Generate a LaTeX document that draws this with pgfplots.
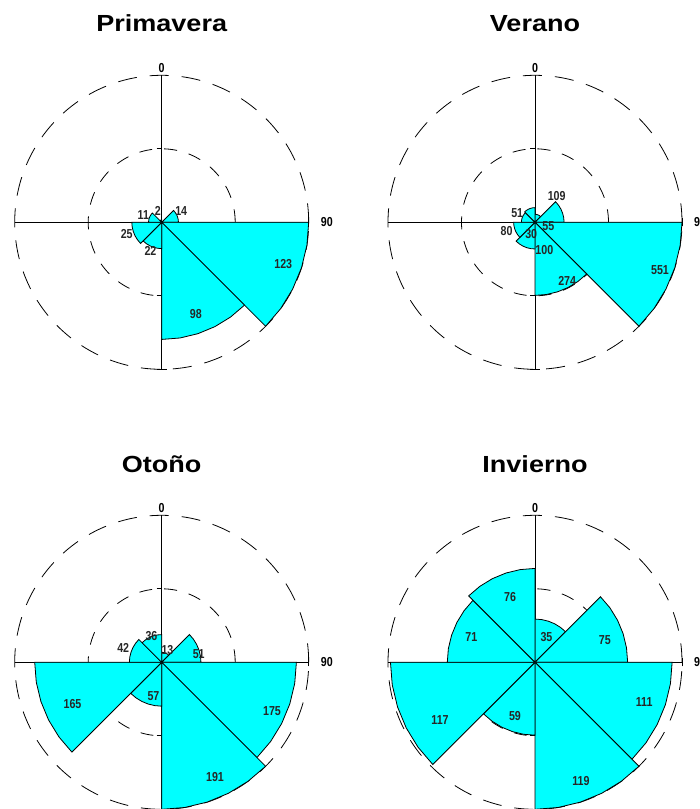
\documentclass[border=0pt]{standalone}
\usepackage{fontspec}
\setmainfont{Liberation Sans}
\newfontfamily\titlefont{Liberation Sans}[FakeStretch=1.16]
\newfontfamily\lblfont{Liberation Sans}[FakeStretch=0.82]
\usepackage{pgfplots}
\pgfplotsset{compat=1.18}
\usepgfplotslibrary{polar}
\definecolor{rosecyan}{RGB}{0,255,255}
\newcommand{\lbl}{\lblfont\bfseries\fontsize{13}{13}\selectfont}
\newcommand{\ttl}{\titlefont\bfseries\fontsize{23.3}{28}\selectfont}

% one 45-degree petal: #1 = compass start angle, #2 = count
\newcommand{\petal}[2]{%
  \pgfmathsetmacro\pa{90-#1}\pgfmathsetmacro\pb{81-#1}\pgfmathsetmacro\pc{72-#1}%
  \pgfmathsetmacro\pd{63-#1}\pgfmathsetmacro\pe{54-#1}\pgfmathsetmacro\pf{45-#1}%
  \edef\temp{\noexpand\addplot[petal] coordinates {(0,0) (\pa,#2) (\pb,#2) (\pc,#2) (\pd,#2) (\pe,#2) (\pf,#2) (0,0)};}\temp}

% #1 = outer radius (max count), #2 = half of it
\newcommand{\roseframe}[2]{%
  \draw[line width=0.8pt, dash pattern=on 19pt off 13pt] (axis cs:0,0) circle[radius=147pt];
  \draw[line width=0.8pt, dash pattern=on 13pt off 12pt] (axis cs:0,0) circle[radius=73.5pt];
  \draw[line width=0.8pt] (axis cs:-#1,0) -- (axis cs:#1,0);
  \draw[line width=0.8pt] (axis cs:0,-#1) -- (axis cs:0,#1);
  \draw[line width=0.8pt] ([yshift=-4pt]axis cs:#1,0) -- ([yshift=4pt]axis cs:#1,0);
  \draw[line width=0.8pt] ([xshift=-5pt]axis cs:0,-#1) -- ([xshift=5pt]axis cs:0,-#1);
  \draw[line width=0.8pt] ([xshift=-5pt]axis cs:0,#2) -- (axis cs:0,#2);
  \draw[line width=0.8pt] ([xshift=-5pt]axis cs:0,-#2) -- (axis cs:0,-#2);
  \node[anchor=south, inner sep=0pt, font=\lbl, yshift=2pt] at (axis cs:0,#1) {0};
  \node[anchor=west, inner sep=0pt, font=\lbl, xshift=12pt] at (axis cs:#1,0) {90};
}

\pgfplotsset{
  rose/.style={hide axis, clip=false, anchor=center},
  petal/.style={data cs=polar, fill=rosecyan, draw=black, line width=0.8pt, mark=none, line join=miter},
  lbl/.style={draw=none, mark=none, nodes near coords, point meta=explicit symbolic,
    every node near coord/.append style={anchor=center, inner sep=0pt, font=\lbl, text=black!85}},
}

\begin{document}
\begin{tikzpicture}[x=1pt,y=1pt]
% ---------------- Primavera ----------------
\node[anchor=base, font=\ttl] at (161.7,-31.7) {Primavera};
\begin{axis}[rose, at={(161.7pt,-222.3pt)}, x=1.19512pt, y=1.19512pt,
  xmin=-123, xmax=123, ymin=-123, ymax=123]
\roseframe{123}{61.5}
\petal{45}{14}
\petal{90}{123}
\petal{135}{98}
\petal{180}{22}
\petal{225}{25}
\petal{270}{11}
\petal{315}{2}
\addplot[lbl] table[meta=t] {
x y t
16.3 9.3 14
-3.3 9.9 2
-15.4 6.1 11
-29.3 -10.0 25
-9.4 -24.3 22
101.7 -34.7 123
28.5 -77.0 98
};
\end{axis}
% ---------------- Verano ----------------
\node[anchor=base, font=\ttl] at (535,-31.7) {Verano};
\begin{axis}[rose, at={(535pt,-222.3pt)}, x=0.266788pt, y=0.266788pt,
  xmin=-551, xmax=551, ymin=-551, ymax=551]
\roseframe{551}{275.5}
\petal{0}{30}
\petal{45}{109}
\petal{90}{551}
\petal{135}{274}
\petal{180}{100}
\petal{225}{80}
\petal{270}{51}
\petal{315}{55}
\addplot[lbl] table[meta=t] {
x y t
81.3 97.8 109
-66.7 35.6 51
-106.8 -33.7 80
-14.2 -43.1 30
49.9 -15.0 55
34.9 -105.7 100
120.7 -221.1 274
468.5 -178.8 551
};
\end{axis}
% ---------------- Otono ----------------
\node[anchor=base, font=\ttl] at (161.7,-472.3) {Otoño};
\begin{axis}[rose, at={(161.7pt,-662.3pt)}, x=0.769634pt, y=0.769634pt,
  xmin=-191, xmax=191, ymin=-191, ymax=191]
\roseframe{191}{95.5}
\petal{0}{13}
\petal{45}{51}
\petal{90}{175}
\petal{135}{191}
\petal{180}{57}
\petal{225}{165}
\petal{270}{42}
\petal{315}{36}
\addplot[lbl] table[meta=t] {
x y t
-13.3 34.4 36
-50.0 18.6 42
7.5 15.3 13
48.1 11.0 51
-115.9 -53.8 165
-10.7 -43.5 57
143.3 -62.9 175
69.3 -148.6 191
};
\end{axis}
% ---------------- Invierno ----------------
\node[anchor=base, font=\ttl] at (535,-472.3) {Invierno};
\begin{axis}[rose, at={(535pt,-662.3pt)}, x=1.235294pt, y=1.235294pt,
  xmin=-119, xmax=119, ymin=-119, ymax=119]
\roseframe{119}{59.5}
\petal{0}{35}
\petal{45}{75}
\petal{90}{111}
\petal{135}{119}
\petal{180}{59}
\petal{225}{117}
\petal{270}{71}
\petal{315}{76}
\addplot[lbl] table[meta=t] {
x y t
-20.1 52.7 76
-51.6 20.7 71
9.3 20.7 35
56.5 18.1 75
88.4 -32.5 111
-76.9 -47.0 117
-16.2 -43.3 59
37.2 -96.3 119
};
\end{axis}
\pgfresetboundingbox
\path[use as bounding box] (0,0) rectangle (700,-809);
\end{tikzpicture}
\end{document}
